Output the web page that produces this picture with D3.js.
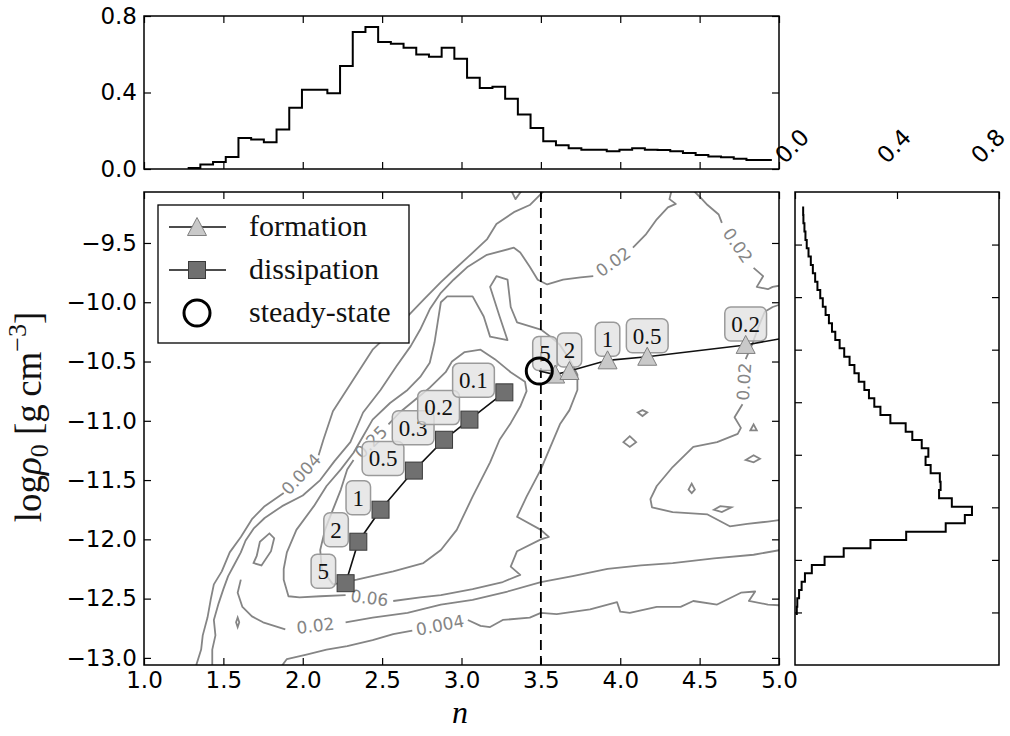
<!DOCTYPE html>
<html>
<head>
<meta charset="utf-8">
<script src="https://cdn.jsdelivr.net/npm/d3@7"></script>
<style>
  body { margin: 0; background: #fff; }
  svg { display: block; }
  .tick text { font-family: "DejaVu Sans", sans-serif; font-size: 23px; fill: #000; }
  .tick line { stroke: #000; stroke-width: 1.2; }
</style>
</head>
<body>
<svg id="chart" width="1010" height="736"></svg>
<script>
// top histogram: distribution of n (step outline)
const nBinStart = 1.275, nBinWidth = 0.08;
const nHist = [0.005, 0.023, 0.037, 0.063, 0.162, 0.154, 0.140, 0.206, 0.320, 0.414,
  0.414, 0.396, 0.538, 0.716, 0.742, 0.664, 0.655, 0.634, 0.599, 0.587,
  0.634, 0.576, 0.477, 0.423, 0.430, 0.367, 0.285, 0.215, 0.145, 0.124,
  0.108, 0.101, 0.101, 0.093, 0.101, 0.108, 0.101, 0.100, 0.093, 0.084,
  0.073, 0.066, 0.061, 0.054, 0.047, 0.047];

// right histogram: distribution of log rho0 (bins run downward from rhoBinStart)
const rhoBinStart = -9.139, rhoBinWidth = 0.0793;
const rhoHist = [0.032, 0.033, 0.037, 0.041, 0.046, 0.053, 0.062, 0.070, 0.079, 0.088,
  0.099, 0.109, 0.120, 0.133, 0.145, 0.158, 0.175, 0.193, 0.214, 0.233,
  0.250, 0.272, 0.290, 0.311, 0.335, 0.374,
  0.434, 0.460, 0.497, 0.523, 0.512, 0.532, 0.568, 0.571, 0.565, 0.615,
  0.694, 0.666, 0.591, 0.436, 0.296, 0.191, 0.116, 0.066, 0.039, 0.026, 0.016, 0.009, 0.007];

// tracks
const formationN = [3.59, 3.68, 3.92, 4.17, 4.79];
const formationRho = [-10.61, -10.58, -10.49, -10.46, -10.36];
const formationLabels = ['5', '2', '1', '0.5', '0.2'];
const formationEnd = [5.0, -10.31];

const dissipationN = [2.27, 2.35, 2.49, 2.70, 2.89, 3.05, 3.27];
const dissipationRho = [-12.37, -12.02, -11.75, -11.42, -11.16, -10.99, -10.76];
const dissipationLabels = ['5', '2', '1', '0.5', '0.3', '0.2', '0.1'];

const steadyState = [3.49, -10.58];
const nCut = 3.5;

// contour lines [n, log rho0]; label sits in the gap before index `gap` (0 = between last and first)
const c004Left = [[1.32,-13.10],[1.36,-12.93],[1.37,-12.81],[1.40,-12.66],[1.42,-12.51],[1.44,-12.38],[1.49,-12.27],[1.54,-12.11],[1.61,-11.98],[1.68,-11.83],[1.76,-11.72],[1.88,-11.61],
  [2.10,-11.29],[2.13,-11.16],[2.19,-10.92],[2.32,-10.65],[2.44,-10.40],[2.55,-10.26],[2.66,-10.12],[2.76,-9.98],[2.87,-9.83],[2.95,-9.73],[3.04,-9.62],[3.16,-9.47],[3.22,-9.34],[3.33,-9.24],[3.43,-9.18],[3.55,-9.02]];
const c004Bottom = [[1.85,-13.10],[1.90,-13.01],[2.03,-12.97],[2.15,-12.93],[2.28,-12.90],[2.44,-12.85],[2.57,-12.80],[2.69,-12.77],
  [3.04,-12.68],[3.12,-12.73],[3.18,-12.74],[3.26,-12.68],[3.43,-12.66],[3.50,-12.62],[3.60,-12.63],[3.81,-12.59],[3.98,-12.53],[4.00,-12.61],[4.06,-12.62],[4.23,-12.57],[4.38,-12.57],[4.46,-12.52],[4.61,-12.55],[4.76,-12.45],[4.85,-12.44],[4.81,-12.52],[4.93,-12.55],[5.05,-12.56]];
const c004Notch = [[3.30,-9.02],[3.34,-9.13],[3.40,-9.02]];
const c02Left = [[1.43,-13.10],[1.43,-12.93],[1.45,-12.81],[1.44,-12.68],[1.47,-12.54],[1.50,-12.42],[1.53,-12.31],[1.57,-12.21],[1.61,-12.11],[1.64,-12.01],[1.69,-11.91],[1.76,-11.82],[1.87,-11.72],[2.00,-11.63],[2.11,-11.50],[2.20,-11.34],[2.30,-11.18],
  [2.38,-10.93],[2.49,-10.74],[2.59,-10.54],[2.68,-10.37],[2.74,-10.23],[2.80,-10.06],[2.87,-9.92],[2.95,-9.81],[3.04,-9.70],[3.16,-9.60],[3.33,-9.54],[3.37,-9.58],[3.43,-9.70],[3.48,-9.81],[3.54,-9.85],[3.64,-9.81],[3.75,-9.79],[3.83,-9.78],
  [4.08,-9.54],[4.16,-9.43],[4.23,-9.30],[4.30,-9.20],[4.35,-9.17],[4.31,-9.13],[4.33,-9.02]];
const c02Bottom = [[1.61,-12.34],[1.59,-12.45],[1.62,-12.57],[1.68,-12.65],[1.75,-12.70],[1.89,-12.76],
  [2.27,-12.70],[2.44,-12.66],[2.66,-12.62],[2.87,-12.55],[3.07,-12.51],[3.29,-12.44],[3.50,-12.36],[3.70,-12.31],[3.92,-12.25],[4.13,-12.22],[4.33,-12.20],[4.59,-12.16],[4.84,-12.13],[5.05,-12.08]];
const c02TopRight = [[4.44,-9.03],[4.50,-9.11],[4.55,-9.18],[4.62,-9.26],[4.64,-9.33],
  [4.84,-9.71],[4.90,-9.78],[4.86,-9.87],[4.93,-9.89],[4.96,-9.87],[5.05,-9.85]];
const c02Tongue = [[5.05,-10.00],[4.96,-10.04],[4.91,-10.08],[4.87,-10.21],[4.83,-10.36],[4.79,-10.48],
  [4.77,-10.86],[4.72,-10.97],[4.76,-11.06],[4.74,-11.11],[4.61,-11.18],[4.46,-11.22],[4.33,-11.39],[4.23,-11.55],[4.19,-11.66],[4.20,-11.73],[4.33,-11.77],[4.55,-11.79],[4.69,-11.89],[4.80,-11.87],[4.93,-11.85],[5.05,-11.83]];
const c06Loop = [[2.27,-12.47],[2.11,-12.48],[1.98,-12.49],[1.91,-12.48],[1.88,-12.34],[1.88,-12.25],[1.90,-12.11],[1.96,-11.92],[2.07,-11.72],[2.15,-11.55],[2.24,-11.41],[2.32,-11.27],[2.38,-11.13],[2.44,-10.99],[2.55,-10.85],[2.66,-10.74],[2.74,-10.63],[2.80,-10.51],[2.83,-10.34],[2.85,-10.17],[2.87,-10.00],[2.91,-9.95],
  [3.07,-9.95],[3.14,-10.12],[3.18,-10.29],[3.29,-10.32],[3.24,-10.12],[3.18,-9.87],[3.22,-9.78],[3.29,-9.81],[3.31,-10.04],[3.35,-10.17],[3.50,-10.23],[3.56,-10.29],[3.62,-10.36],[3.68,-10.48],[3.73,-10.61],[3.73,-10.74],[3.68,-10.91],[3.62,-11.03],[3.56,-11.22],[3.50,-11.41],[3.41,-11.64],[3.35,-11.81],[3.50,-11.92],[3.55,-11.98],[3.50,-12.00],[3.35,-12.10],[3.31,-12.23],[3.37,-12.30],[3.26,-12.36],[3.07,-12.42],[2.87,-12.47],[2.74,-12.49],[2.57,-12.52]];
const c25Loop = [[2.19,-12.38],[2.12,-12.25],[2.11,-12.09],[2.14,-11.92],[2.19,-11.75],[2.24,-11.58],[2.28,-11.41],[2.32,-11.33],
  [2.54,-11.03],[2.61,-10.93],[2.71,-10.82],[2.80,-10.72],[2.90,-10.59],[2.94,-10.50],[3.02,-10.42],[3.12,-10.40],[3.21,-10.48],[3.31,-10.59],[3.40,-10.67],[3.41,-10.75],[3.37,-10.88],[3.31,-11.02],[3.24,-11.16],[3.18,-11.35],[3.07,-11.64],[2.97,-11.92],[2.87,-12.09],[2.76,-12.20],[2.57,-12.27],[2.34,-12.34],[2.19,-12.38]];
const islands = [
  [[4.02,-11.18],[4.06,-11.13],[4.10,-11.18],[4.06,-11.22]],
  [[4.79,-11.33],[4.84,-11.29],[4.88,-11.32],[4.84,-11.35]],
  [[4.43,-11.58],[4.45,-11.53],[4.47,-11.58],[4.45,-11.61]],
  [[4.59,-11.75],[4.63,-11.72],[4.70,-11.73],[4.64,-11.77]],
  [[4.11,-10.93],[4.14,-10.91],[4.17,-10.93],[4.14,-10.96]],
  [[1.71,-12.14],[1.73,-12.02],[1.79,-11.95],[1.82,-11.99],[1.80,-12.10],[1.74,-12.22],[1.69,-12.20]],
  [[1.58,-12.70],[1.59,-12.66],[1.60,-12.70],[1.59,-12.74]],
  [[4.82,-11.08],[4.84,-11.03],[4.86,-11.08]]
];

const contours = [
  { label: '0.004', pts: c004Left, gap: 12 },
  { label: '0.004', pts: c004Bottom, gap: 8 },
  { label: null, pts: c004Notch, gap: null },
  { label: '0.02', pts: c02Left, gap: 35 },
  { label: '0.02', pts: c02Bottom, gap: 6 },
  { label: '0.02', pts: c02TopRight, gap: 5 },
  { label: '0.02', pts: c02Tongue, gap: 6 },
  { label: '0.06', pts: c06Loop, gap: 0 },
  { label: '0.25', pts: c25Loop, gap: 8 }
];

const xTicks = d3.range(1, 5.01, 0.5);
const yTicks = d3.range(-9.5, -13.01, -0.5);
const histTicks = [0, 0.4, 0.8];

const svg = d3.select('#chart');
const W = 1010;
const main = { left: 144, top: 192, width: 635, height: 473 };
const topBox = { left: 144, top: 16, width: 635, height: 153 };
const side = { left: 795, top: 192, width: 204, height: 473 };
const tickLen = 7;
const fmt1 = d3.format('.1f');
const gray = '#858585';

const x = d3.scaleLinear().domain([1, 5]).range([main.left, main.left + main.width]);
const y = d3.scaleLinear().domain([-13.06, -9.07]).range([main.top + main.height, main.top]);
const yTop = d3.scaleLinear().domain([0, 0.8]).range([topBox.top + topBox.height, topBox.top]);
const xSide = d3.scaleLinear().domain([0, 0.8]).range([side.left, side.left + side.width]);
const ySide = d3.scaleLinear().domain([-13.5, -9.0]).range([side.top + side.height, side.top]);

// clip for the main panel
svg.append('defs').append('clipPath').attr('id', 'clipMain')
  .append('rect').attr('x', main.left).attr('y', main.top).attr('width', main.width).attr('height', main.height);

const plot = svg.append('g').attr('clip-path', 'url(#clipMain)');
const line = d3.line().x(d => x(d[0])).y(d => y(d[1]));

// contours
contours.forEach(c => {
  let pieces;
  if (c.gap === null || c.gap === 0) pieces = [c.pts];
  else pieces = [c.pts.slice(0, c.gap), c.pts.slice(c.gap)];
  pieces.forEach(p => {
    plot.append('path').attr('d', line(p))
      .attr('fill', 'none').attr('stroke', gray).attr('stroke-width', 1.8).attr('stroke-linejoin', 'round');
  });
  if (c.label) {
    const n = c.pts.length;
    const a = c.gap === 0 ? c.pts[n - 1] : c.pts[c.gap - 1];
    const b = c.gap === 0 ? c.pts[0] : c.pts[c.gap];
    const ax = x(a[0]), ay = y(a[1]), bx = x(b[0]), by = y(b[1]);
    let ang = Math.atan2(by - ay, bx - ax) * 180 / Math.PI;
    if (ang > 90) ang -= 180;
    if (ang < -90) ang += 180;
    const mx = (ax + bx) / 2, my = (ay + by) / 2;
    plot.append('text')
      .attr('transform', `translate(${mx},${my}) rotate(${ang})`)
      .attr('text-anchor', 'middle').attr('dy', '0.35em')
      .attr('font-family', 'DejaVu Sans, sans-serif').attr('font-size', 17)
      .attr('fill', gray).text(c.label);
  }
});
islands.forEach(p => {
  plot.append('path').attr('d', d3.line().x(d => x(d[0])).y(d => y(d[1])).curve(d3.curveLinearClosed)(p))
    .attr('fill', 'none').attr('stroke', gray).attr('stroke-width', 1.8);
});

// dashed cut at n = 3.5
plot.append('line')
  .attr('x1', x(nCut)).attr('x2', x(nCut)).attr('y1', main.top).attr('y2', main.top + main.height)
  .attr('stroke', '#000').attr('stroke-width', 1.8).attr('stroke-dasharray', '10,6');

// tag boxes: measure first, then place
function makeTag(label) {
  const g = plot.append('g');
  const t = g.append('text').attr('font-family', 'Liberation Serif, serif').attr('font-size', 23)
    .attr('fill', '#111').attr('text-anchor', 'middle').attr('dy', '0.34em').text(label);
  return { g, t, w: t.node().getComputedTextLength() + 13 };
}
function placeTag(tg, bx, cy) {
  tg.t.attr('x', bx + tg.w / 2).attr('y', cy);
  tg.g.insert('rect', 'text').attr('x', bx).attr('y', cy - 17).attr('width', tg.w).attr('height', 34)
    .attr('rx', 6).attr('fill', '#e2e2e2').attr('fill-opacity', 0.8)
    .attr('stroke', '#9a9a9a').attr('stroke-width', 1.5);
}
dissipationN.forEach((n, i) => {
  const tg = makeTag(dissipationLabels[i]);
  placeTag(tg, x(n) - 10 - tg.w, y(dissipationRho[i]) - 12);
});
const formTags = formationLabels.map(makeTag);
const formLeft = formationN.map((n, i) => x(n) - formTags[i].w / 2);
for (let i = formLeft.length - 2; i >= 0; i--) {
  const overlap = formLeft[i] + formTags[i].w - formLeft[i + 1];
  if (overlap > 0) formLeft[i] -= overlap;
}
formTags.forEach((tg, i) => placeTag(tg, formLeft[i], y(formationRho[i]) - 21));

// tracks
const formTrack = [steadyState].concat(formationN.map((n, i) => [n, formationRho[i]]), [formationEnd]);
plot.append('path').attr('d', line(formTrack)).attr('fill', 'none').attr('stroke', '#111').attr('stroke-width', 1.6);
const dissTrack = dissipationN.map((n, i) => [n, dissipationRho[i]]);
plot.append('path').attr('d', line(dissTrack)).attr('fill', 'none').attr('stroke', '#111').attr('stroke-width', 1.6);

const triPath = 'M0,-9.5L9.5,8.5L-9.5,8.5Z';
function triangle(g, px, py) {
  g.append('path').attr('d', triPath).attr('transform', `translate(${px},${py})`)
    .attr('fill', '#c9c9c9').attr('stroke', '#808080').attr('stroke-width', 1);
}
function square(g, px, py) {
  g.append('rect').attr('x', px - 8.5).attr('y', py - 8.5).attr('width', 17).attr('height', 17)
    .attr('fill', '#707070').attr('stroke', '#3a3a3a').attr('stroke-width', 1);
}
formationN.forEach((n, i) => triangle(plot, x(n), y(formationRho[i])));
dissipationN.forEach((n, i) => square(plot, x(n), y(dissipationRho[i])));
plot.append('circle').attr('cx', x(steadyState[0])).attr('cy', y(steadyState[1])).attr('r', 13)
  .attr('fill', 'none').attr('stroke', '#000').attr('stroke-width', 3);

// legend
const leg = svg.append('g');
leg.append('rect').attr('x', 158).attr('y', 205).attr('width', 251).attr('height', 138)
  .attr('fill', '#fff').attr('stroke', '#000').attr('stroke-width', 1.3);
const legItems = [
  { text: 'formation', y: 227, kind: 'tri' },
  { text: 'dissipation', y: 270, kind: 'sq' },
  { text: 'steady-state', y: 313, kind: 'circ' }
];
legItems.forEach(it => {
  if (it.kind !== 'circ') {
    leg.append('line').attr('x1', 169).attr('x2', 226).attr('y1', it.y).attr('y2', it.y)
      .attr('stroke', '#111').attr('stroke-width', 1.6);
  }
  if (it.kind === 'tri') triangle(leg, 197, it.y);
  if (it.kind === 'sq') square(leg, 197, it.y);
  if (it.kind === 'circ') leg.append('circle').attr('cx', 197).attr('cy', it.y).attr('r', 13)
    .attr('fill', 'none').attr('stroke', '#000').attr('stroke-width', 3);
  leg.append('text').attr('x', 249).attr('y', it.y + 9)
    .attr('font-family', 'Liberation Serif, serif').attr('font-size', 30).attr('fill', '#111').text(it.text);
});

// axes helper
function axis(gen, tx, ty) {
  const g = svg.append('g').attr('transform', `translate(${tx},${ty})`).call(gen);
  g.select('.domain').remove();
  return g;
}
// main panel axes
axis(d3.axisBottom(x).tickValues(xTicks).tickFormat(fmt1).tickSize(-tickLen).tickPadding(7), 0, main.top + main.height);
axis(d3.axisTop(x).tickValues(xTicks).tickFormat('').tickSize(-tickLen), 0, main.top);
axis(d3.axisLeft(y).tickValues(yTicks).tickFormat(fmt1).tickSize(-tickLen).tickPadding(7), main.left, 0);
axis(d3.axisRight(y).tickValues(yTicks).tickFormat('').tickSize(-tickLen), main.left + main.width, 0);

// top histogram
const topPts = nHist.map((v, i) => [nBinStart + i * nBinWidth, v]);
topPts.push([nBinStart + nHist.length * nBinWidth, nHist[nHist.length - 1]]);
svg.append('path')
  .attr('d', d3.line().x(d => x(d[0])).y(d => yTop(d[1])).curve(d3.curveStepAfter)(topPts))
  .attr('fill', 'none').attr('stroke', '#000').attr('stroke-width', 2);
axis(d3.axisBottom(x).tickValues(xTicks).tickFormat('').tickSize(-tickLen), 0, topBox.top + topBox.height);
axis(d3.axisTop(x).tickValues(xTicks).tickFormat('').tickSize(-tickLen), 0, topBox.top);
axis(d3.axisLeft(yTop).tickValues(histTicks).tickFormat(fmt1).tickSize(-tickLen).tickPadding(7), topBox.left, 0);
axis(d3.axisRight(yTop).tickValues(histTicks).tickFormat('').tickSize(-tickLen), topBox.left + topBox.width, 0);

// right histogram
const sidePts = rhoHist.map((v, j) => [v, rhoBinStart - j * rhoBinWidth]);
sidePts.push([rhoHist[rhoHist.length - 1], rhoBinStart - rhoHist.length * rhoBinWidth]);
svg.append('path')
  .attr('d', d3.line().x(d => xSide(d[0])).y(d => ySide(d[1])).curve(d3.curveStepBefore)(sidePts))
  .attr('fill', 'none').attr('stroke', '#000').attr('stroke-width', 2);
axis(d3.axisTop(xSide).tickValues(histTicks).tickFormat('').tickSize(-tickLen), 0, side.top);
axis(d3.axisLeft(ySide).tickValues(yTicks).tickFormat('').tickSize(-tickLen), side.left, 0);
axis(d3.axisRight(ySide).tickValues(yTicks).tickFormat('').tickSize(-tickLen), side.left + side.width, 0);
histTicks.forEach(v => {
  // keep the last rotated label inside the page
  const cx = Math.min(xSide(v) - 3, W - 22);
  svg.append('text')
    .attr('transform', `translate(${cx},${side.top - 46}) rotate(-45)`)
    .attr('text-anchor', 'middle').attr('dy', '0.35em')
    .attr('font-family', 'DejaVu Sans, sans-serif').attr('font-size', 23).text(fmt1(v));
});

// frames
[main, topBox, side].forEach(b => {
  svg.append('rect').attr('x', b.left).attr('y', b.top).attr('width', b.width).attr('height', b.height)
    .attr('fill', 'none').attr('stroke', '#000').attr('stroke-width', 1.5);
});

// axis titles
svg.append('text').attr('x', 460).attr('y', 723).attr('text-anchor', 'middle')
  .attr('font-family', 'Liberation Serif, serif').attr('font-style', 'italic').attr('font-size', 32).text('n');

const yl = svg.append('text').attr('transform', 'translate(41,417) rotate(-90)').attr('text-anchor', 'middle')
  .attr('font-family', 'Liberation Serif, serif').attr('font-size', 37).attr('fill', '#111');
yl.append('tspan').text('log');
yl.append('tspan').attr('font-style', 'italic').text('ρ');
yl.append('tspan').attr('font-size', 26).attr('dy', 7).text('0');
yl.append('tspan').attr('dy', -7).text(' [g\u2009cm');
yl.append('tspan').attr('font-size', 26).attr('dy', -15).text('−3');
yl.append('tspan').attr('dy', 15).text(']');
</script>
</body>
</html>
